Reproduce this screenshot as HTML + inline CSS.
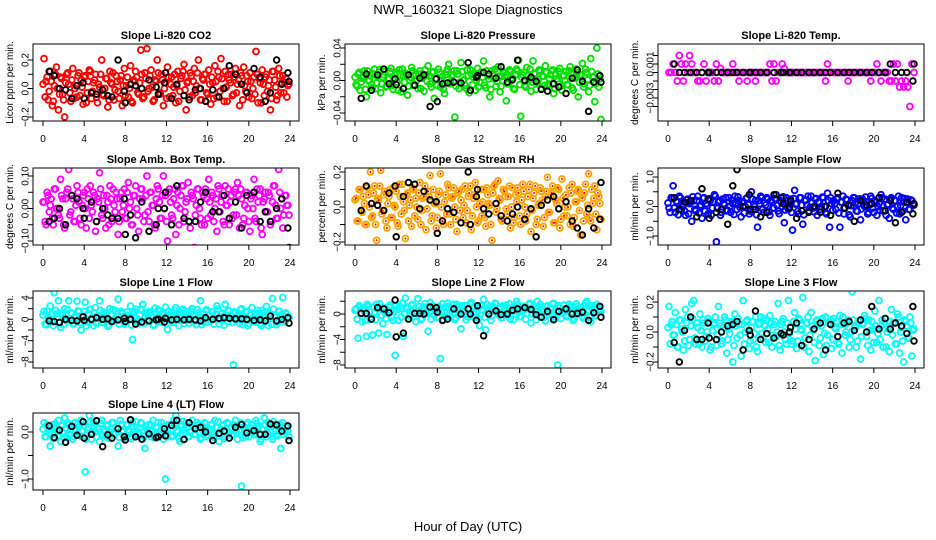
<!DOCTYPE html>
<html><head><meta charset="utf-8"><style>
html,body{margin:0;padding:0;background:#fff;}
svg{display:block;font-family:"Liberation Sans",Arial,sans-serif;}
</style></head><body>
<svg id="chart" width="936" height="540" viewBox="0 0 936 540">
<rect width="936" height="540" fill="#fff"/>
<text x="468" y="14" font-size="13" text-anchor="middle">NWR_160321  Slope Diagnostics</text>
<text x="468" y="531" font-size="13" text-anchor="middle">Hour of Day (UTC)</text>
</svg>
<script>
const hours = [0.1,0.3,0.5,0.7,0.9,1.1,1.3,1.5,1.7,1.9,2.1,2.3,2.5,2.7,2.9,3.1,3.3,3.5,3.7,3.9,4.1,4.3,4.5,4.7,4.9,5.1,5.3,5.5,5.7,5.9,6.1,6.3,6.5,6.7,6.9,7.1,7.3,7.5,7.7,7.9,8.1,8.3,8.5,8.7,8.9,9.1,9.3,9.5,9.7,9.9,10.1,10.3,10.5,10.7,10.9,11.1,11.3,11.5,11.7,11.9,12.1,12.3,12.5,12.7,12.9,13.1,13.3,13.5,13.7,13.9,14.1,14.3,14.5,14.7,14.9,15.1,15.3,15.5,15.7,15.9,16.1,16.3,16.5,16.7,16.9,17.1,17.3,17.5,17.7,17.9,18.1,18.3,18.5,18.7,18.9,19.1,19.3,19.5,19.7,19.9,20.1,20.3,20.5,20.7,20.9,21.1,21.3,21.5,21.7,21.9,22.1,22.3,22.5,22.7,22.9,23.1,23.3,23.5,23.7,23.9];
const hours2 = [0.0,0.2,0.4,0.6,0.8,1.0,1.2,1.4,1.6,1.8,2.0,2.2,2.4,2.6,2.8,3.0,3.2,3.4,3.6,3.8,4.0,4.2,4.4,4.6,4.8,5.0,5.2,5.4,5.6,5.8,6.0,6.2,6.4,6.6,6.8,7.0,7.2,7.4,7.6,7.8,8.0,8.2,8.4,8.6,8.8,9.0,9.2,9.4,9.6,9.8,10.0,10.2,10.4,10.6,10.8,11.0,11.2,11.4,11.6,11.8,12.0,12.2,12.4,12.6,12.8,13.0,13.2,13.4,13.6,13.8,14.0,14.2,14.4,14.6,14.8,15.0,15.2,15.4,15.6,15.8,16.0,16.2,16.4,16.6,16.8,17.0,17.2,17.4,17.6,17.8,18.0,18.2,18.4,18.6,18.8,19.0,19.2,19.4,19.6,19.8,20.0,20.2,20.4,20.6,20.8,21.0,21.2,21.4,21.6,21.8,22.0,22.2,22.4,22.6,22.8,23.0,23.2,23.4,23.6,23.8];
const blackHours = [0.6,1.1,1.6,2.2,2.8,3.3,3.9,4.0,4.7,5.2,5.8,6.3,6.7,7.3,7.9,8.0,8.5,9.0,9.6,10.3,11.0,11.2,11.8,11.9,12.5,13.0,13.7,14.2,14.8,15.3,15.8,16.5,17.1,17.6,18.1,18.7,19.3,19.8,20.5,21.1,21.6,22.1,22.7,23.2,23.8,23.9];
const xTicks = [0,4,8,12,16,20,24];

const co2Vals = [0.21,0.05,-0.08,0.12,-0.12,0.02,0.15,-0.15,0.08,-0.04,-0.2,0.1,0.03,-0.09,0.14,0.0,-0.06,0.11,0.06,-0.11,0.09,-0.03,0.13,-0.07,0.04,0.1,-0.1,0.01,0.2,-0.05,0.07,-0.13,0.12,0.03,-0.08,0.09,-0.02,0.06,-0.12,0.14,0.02,-0.06,0.16,-0.1,0.05,0.08,-0.04,0.27,-0.07,0.11,0.28,0.0,0.13,-0.09,0.06,0.2,-0.03,0.1,-0.12,0.04,0.15,-0.06,0.08,0.01,-0.1,0.12,-0.02,0.09,0.17,-0.15,0.05,0.11,-0.05,0.14,0.02,0.2,-0.08,0.07,0.1,-0.03,0.13,-0.11,0.04,0.16,-0.06,0.08,0.21,0.0,0.12,-0.09,0.06,0.1,-0.04,0.14,0.03,-0.12,0.09,0.15,-0.02,0.05,0.11,-0.07,0.08,0.26,-0.1,0.04,0.13,-0.05,0.1,0.02,-0.15,0.12,0.06,-0.08,0.14,-0.03,0.09,0.04,-0.06,0.03];
const co2Vals2 = [0.03,-0.06,0.08,-0.02,0.05,-0.09,0.1,0.0,-0.04,0.07,-0.08,0.04,0.11,-0.03,0.06,-0.07,0.02,0.09,-0.05,0.01,0.08,-0.1,0.05,0.12,-0.02,0.06,-0.06,0.03,0.1,-0.04,0.0,0.07,-0.08,0.04,0.11,-0.01,0.05,-0.07,0.09,0.02,-0.05,0.08,0.0,-0.09,0.06,0.12,-0.03,0.04,0.1,-0.06,0.07,-0.02,0.09,0.01,-0.08,0.05,0.11,-0.04,0.06,0.0,-0.07,0.08,0.03,-0.05,0.1,0.02,-0.09,0.07,0.12,-0.01,0.04,-0.06,0.09,0.05,-0.03,0.11,0.0,-0.08,0.06,0.1,-0.04,0.03,0.08,-0.07,0.05,0.12,-0.02,0.07,-0.09,0.01,0.1,0.04,-0.05,0.08,-0.03,0.06,0.11,-0.08,0.02,0.09,-0.06,0.05,0.0,-0.04,0.1,0.07,-0.1,0.03,0.08,-0.02,0.06,-0.07,0.12,0.01,-0.05,0.09,0.04,-0.03,0.07,0.02];
const co2Black = [0.12,0.09,0.0,-0.01,-0.07,0.02,0.04,-0.07,-0.03,-0.04,-0.01,-0.05,-0.06,0.2,-0.02,-0.1,0.03,0.02,0.0,0.06,0.01,-0.04,0.04,0.11,-0.07,0.03,-0.05,-0.08,-0.01,0.0,-0.09,-0.01,-0.06,0.0,0.16,0.1,0.03,-0.03,0.14,0.08,-0.09,-0.03,0.2,0.03,0.11,0.05];
const presVals = [-0.005,0.008,-0.012,0.003,0.012,-0.02,0.0,0.006,-0.009,0.014,-0.003,0.01,-0.015,0.004,0.011,-0.007,0.002,0.015,-0.011,0.007,-0.002,0.013,-0.014,0.005,0.009,-0.018,0.001,0.016,-0.006,0.008,-0.01,0.012,0.003,-0.013,0.006,0.018,-0.004,0.01,-0.022,0.002,0.014,-0.008,0.005,-0.016,0.011,0.02,-0.003,0.007,-0.045,0.012,-0.01,0.022,0.0,-0.006,0.013,-0.015,0.008,0.004,-0.012,0.015,-0.002,0.01,0.024,-0.009,0.006,-0.02,0.012,0.002,-0.007,0.017,-0.014,0.005,0.009,-0.025,-0.004,0.011,0.003,-0.011,0.014,0.025,-0.044,0.007,-0.006,0.016,0.001,-0.013,0.024,0.009,-0.003,0.013,-0.01,0.005,0.018,-0.007,0.002,0.012,-0.016,0.008,-0.001,0.015,-0.012,0.006,0.011,-0.005,0.017,-0.009,0.003,0.014,-0.02,0.007,0.021,-0.004,0.01,-0.014,0.027,0.004,-0.026,0.04,-0.008,-0.048];
const presVals2 = [0.004,-0.007,0.01,-0.002,0.006,-0.011,0.012,0.0,-0.005,0.008,-0.01,0.005,0.013,-0.004,0.007,-0.008,0.002,0.011,-0.006,0.001,0.01,-0.012,0.006,0.014,-0.002,0.007,-0.007,0.004,0.012,-0.005,0.0,0.008,-0.01,0.005,0.013,-0.001,0.006,-0.008,0.011,0.002,-0.006,0.01,0.0,-0.011,0.007,0.014,-0.004,0.005,0.012,-0.007,0.008,-0.002,0.011,0.001,-0.01,0.006,0.013,-0.005,0.007,0.0,-0.008,0.01,0.004,-0.006,0.012,0.002,-0.011,0.008,0.014,-0.001,0.005,-0.007,0.011,0.006,-0.004,0.013,0.0,-0.01,0.007,0.012,-0.005,0.004,0.01,-0.008,0.006,0.014,-0.002,0.008,-0.011,0.001,0.012,0.005,-0.006,0.01,-0.004,0.007,0.013,-0.01,0.002,0.011,-0.007,0.006,0.0,-0.005,0.012,0.008,-0.012,0.004,0.01,-0.002,0.007,-0.008,0.014,0.001,-0.006,0.011,0.005,-0.004,0.008,0.002];
const presBlack = [-0.022,0.008,-0.012,0.007,0.014,-0.004,0.002,-0.005,-0.01,0.007,-0.006,0.003,0.007,-0.032,0.002,-0.026,-0.004,-0.003,-0.002,-0.003,0.022,-0.012,0.004,0.006,0.01,0.008,0.003,0.017,-0.002,0.001,0.025,0.0,0.004,-0.001,-0.011,-0.013,-0.004,-0.008,-0.016,0.003,0.013,-0.001,-0.038,-0.002,0.006,-0.002];
const tempVals = [0,0,0.001,0,-0.001,0.002,0.001,-0.001,0.001,0,0.002,0.001,0,0,-0.001,-0.001,0,0.001,-0.001,0,0,0,-0.001,0.001,-0.001,0.0005,0,0,0,0,0,0.001,0,0,-0.001,0,0,0,-0.001,0,0,0,-0.001,0,0,0,0,0,0,0.001,-0.001,0.001,-0.001,0,0,0.001,0.0005,0,0,0,0,0,0,0,0,0,0,0,0,0,0,0,0,0,0,0,-0.001,0.001,0,0,0,0,0,0,0,0,0,-0.001,0,0,0,0,0,0,0,0,0,0,-0.001,0,0,0.001,0,-0.001,0,0,0,-0.001,-0.001,0.001,-0.001,0.001,-0.0017,-0.001,-0.0017,-0.001,-0.0017,-0.004,0.001,0];
const tempVals2 = [];
const tempBlack = [0.001,0,0,0,0,0,0,0,0,0,0,0,0,0,0,0,0,0,0,0,0,0,0,0,0,0,0,0,0,0,0,0,0,0,0,0,0,0,0,0,0.001,0,0,0,-0.001,0.001];
const ambVals = [0.02,-0.05,0.04,0.01,-0.03,0.06,0.0,-0.02,0.09,0.03,-0.06,0.05,0.12,-0.01,0.03,-0.04,0.07,0.02,-0.05,0.04,0.0,0.06,-0.03,0.01,0.05,-0.07,0.03,0.11,-0.02,0.04,-0.06,0.02,0.07,-0.04,0.01,0.05,-0.08,0.03,-0.01,0.06,-0.03,0.08,0.02,-0.05,0.04,0.0,-0.07,0.06,0.03,-0.02,0.1,-0.04,0.05,0.01,-0.06,0.07,0.02,-0.03,0.1,0.04,-0.1,0.06,-0.02,0.03,-0.08,0.05,0.0,0.07,-0.04,0.02,0.08,-0.06,0.04,-0.12,0.01,0.06,-0.03,0.05,-0.05,0.03,0.09,-0.02,0.04,0.0,-0.07,0.06,0.02,-0.04,0.07,0.01,-0.05,0.04,-0.02,0.06,0.08,-0.06,0.03,-0.03,0.05,0.0,-0.07,0.04,0.09,-0.04,0.02,0.06,-0.08,0.03,-0.01,0.05,-0.05,0.02,0.07,-0.03,0.12,0.0,-0.06,0.04,0.01,-0.02];
const ambVals2 = [0.02,-0.04,0.05,-0.01,0.03,-0.05,0.06,0.0,-0.03,0.04,-0.05,0.03,0.06,-0.02,0.04,-0.04,0.01,0.05,-0.03,0.01,0.05,-0.06,0.03,0.07,-0.01,0.04,-0.04,0.02,0.06,-0.03,0.0,0.04,-0.05,0.03,0.06,-0.01,0.03,-0.04,0.05,0.01,-0.03,0.05,0.0,-0.05,0.04,0.07,-0.02,0.03,0.06,-0.04,0.04,-0.01,0.05,0.01,-0.05,0.03,0.06,-0.03,0.04,0.0,-0.04,0.05,0.02,-0.03,0.06,0.01,-0.05,0.04,0.07,-0.01,0.03,-0.04,0.05,0.03,-0.02,0.06,0.0,-0.05,0.04,0.06,-0.03,0.02,0.05,-0.04,0.03,0.07,-0.01,0.04,-0.05,0.01,0.06,0.02,-0.03,0.05,-0.02,0.04,0.06,-0.05,0.01,0.05,-0.04,0.03,0.0,-0.03,0.06,0.04,-0.06,0.02,0.05,-0.01,0.04,-0.04,0.07,0.01,-0.03,0.05,0.03,-0.02,0.04,0.01];
const ambBlack = [-0.04,-0.03,0.0,-0.05,0.04,0.03,0.0,-0.03,0.02,-0.04,0.0,-0.02,-0.03,-0.03,0.03,-0.08,-0.02,-0.09,0.02,-0.07,-0.05,0.0,0.0,0.05,-0.05,0.07,-0.03,-0.04,-0.04,0.02,0.05,-0.01,-0.01,0.04,-0.03,0.02,-0.06,0.04,0.05,-0.04,-0.01,-0.04,0.0,0.03,-0.06,-0.12];
const rhVals = [0.05,-0.08,0.1,-0.03,0.02,-0.1,0.07,0.2,-0.05,0.12,-0.19,0.04,0.21,-0.02,0.09,-0.12,0.06,-0.06,0.11,0.0,-0.09,0.13,-0.04,0.03,-0.18,0.08,0.01,-0.11,0.1,0.05,-0.07,0.14,-0.02,0.06,-0.13,0.09,0.18,-0.05,0.02,-0.12,0.07,0.19,-0.08,0.03,-0.04,0.11,-0.1,0.06,0.0,-0.14,0.09,0.04,-0.06,0.12,-0.02,0.08,-0.13,0.05,0.14,-0.09,0.02,-0.05,0.1,-0.11,0.07,0.01,-0.19,0.12,-0.03,0.15,0.04,-0.08,0.09,-0.01,0.06,-0.12,0.11,-0.06,0.03,0.08,-0.1,0.13,0.0,-0.04,0.1,-0.14,0.05,0.12,-0.07,0.02,0.09,-0.11,0.06,0.17,-0.03,0.08,-0.09,0.04,0.11,-0.12,0.16,-0.05,0.07,0.0,-0.1,0.13,-0.06,0.03,0.1,-0.16,0.05,0.08,-0.04,0.19,-0.08,0.02,0.12,-0.13,0.06,-0.07];
const rhVals2 = [0.04,-0.08,0.1,-0.02,0.06,-0.1,0.11,0.0,-0.06,0.08,-0.1,0.05,0.12,-0.04,0.07,-0.08,0.02,0.1,-0.06,0.01,0.09,-0.11,0.06,0.13,-0.02,0.07,-0.08,0.04,0.11,-0.05,0.0,0.08,-0.1,0.05,0.12,-0.01,0.06,-0.08,0.1,0.02,-0.06,0.09,0.0,-0.1,0.07,0.13,-0.04,0.05,0.11,-0.07,0.08,-0.02,0.1,0.01,-0.09,0.06,0.12,-0.05,0.07,0.0,-0.08,0.1,0.03,-0.06,0.11,0.02,-0.1,0.08,0.13,-0.01,0.05,-0.07,0.1,0.06,-0.04,0.12,0.0,-0.09,0.07,0.11,-0.05,0.04,0.09,-0.08,0.06,0.13,-0.02,0.08,-0.1,0.01,0.11,0.04,-0.06,0.09,-0.03,0.07,0.12,-0.09,0.02,0.1,-0.07,0.05,0.0,-0.05,0.11,0.08,-0.11,0.03,0.09,-0.02,0.07,-0.08,0.13,0.01,-0.06,0.1,0.05,-0.04,0.08,0.02];
const rhBlack = [-0.02,0.12,0.02,0.01,-0.02,0.08,0.12,-0.17,0.06,0.14,0.13,-0.01,0.09,0.04,0.03,-0.15,-0.08,-0.01,-0.03,-0.09,0.2,-0.1,0.06,0.1,-0.01,-0.04,0.02,-0.05,-0.08,-0.04,0.0,-0.07,-0.01,-0.17,0.01,0.04,0.06,-0.01,0.03,-0.08,-0.12,-0.16,-0.01,-0.12,-0.07,0.14];
const sampVals = [-0.05,0.3,0.7,-0.2,0.15,0.35,-0.1,0.05,-0.3,0.25,0.1,-0.5,0.2,-0.15,0.35,0.0,-0.4,0.3,0.1,-0.25,0.2,-0.05,0.4,-1.2,0.15,-0.3,0.25,0.05,-0.15,0.3,-0.2,0.1,0.35,-0.1,0.2,-0.35,0.15,0.0,0.3,-0.25,0.5,-0.1,0.2,-0.7,0.1,0.3,-0.2,0.05,0.25,-0.3,0.15,-0.05,0.4,-0.15,0.2,0.0,-0.55,0.3,-0.1,0.25,-0.8,0.55,0.1,-0.25,0.3,-0.6,0.2,0.05,-0.15,0.35,-0.05,0.25,-0.3,0.15,0.0,0.3,-0.2,0.45,-0.7,0.1,0.2,-0.1,0.3,-0.7,0.15,-0.25,0.25,0.05,-0.35,0.2,0.3,-0.15,0.1,-0.45,0.25,0.0,0.15,-0.2,0.35,-0.05,0.2,-0.3,0.1,0.4,-0.15,0.25,0.05,-0.4,0.3,-0.1,0.2,0.0,-0.25,0.3,0.15,-0.45,0.25,-0.1,0.2,0.05];
const sampVals2 = [0.12,-0.2,0.28,-0.05,0.18,-0.28,0.3,0.0,-0.15,0.22,-0.25,0.14,0.33,-0.1,0.2,-0.22,0.05,0.28,-0.16,0.03,0.26,-0.3,0.16,0.35,-0.06,0.2,-0.2,0.1,0.3,-0.13,0.0,0.22,-0.27,0.12,0.33,-0.03,0.15,-0.22,0.27,0.06,-0.16,0.25,0.0,-0.28,0.2,0.35,-0.1,0.13,0.3,-0.18,0.21,-0.05,0.27,0.03,-0.24,0.15,0.33,-0.12,0.2,0.0,-0.2,0.27,0.08,-0.16,0.3,0.05,-0.28,0.22,0.35,-0.03,0.13,-0.18,0.27,0.16,-0.1,0.32,0.0,-0.25,0.2,0.3,-0.13,0.1,0.25,-0.22,0.15,0.35,-0.05,0.22,-0.28,0.03,0.3,0.12,-0.16,0.26,-0.08,0.2,0.32,-0.25,0.05,0.27,-0.2,0.14,0.0,-0.13,0.3,0.22,-0.3,0.08,0.25,-0.05,0.2,-0.22,0.35,0.03,-0.16,0.27,0.14,-0.1,0.22,0.06];
const sampBlack = [0.3,-0.1,0.15,0.2,-0.35,0.6,0.25,-0.4,-0.2,-0.1,-0.6,0.7,1.25,0.0,0.4,-0.1,-0.1,-0.35,-0.2,0.4,0.3,0.1,-0.05,0.2,-0.4,-0.15,-0.2,0.0,-0.2,0.0,-0.3,0.45,-0.05,0.05,-0.5,0.2,0.05,0.1,0.3,-0.15,0.2,-0.55,-0.2,0.15,-0.25,0.1];
const l1Vals = [1.5,-1,0.5,2.5,-0.5,5,1,3.5,-1.5,0.8,2,-0.3,3.5,1.2,-0.8,0.3,3.4,1.5,-2,0.6,3.2,-0.5,1.8,0.2,-1.2,2.2,0.7,3.5,-0.6,1.3,0.4,-1.3,2.0,0.9,-0.2,1.6,3.8,0.1,1.1,-0.9,-0.4,0.8,2.5,-3.8,1.4,0.2,-0.7,1.9,2.8,0.5,-0.3,1.2,0.7,-1.1,2.1,0.3,1.6,-0.5,0.9,2.3,-1.9,0.6,1.3,-0.4,2.2,0.8,0.1,1.7,-0.8,0.4,1.5,-0.2,2.0,0.7,-1.0,1.2,3.5,0.3,-0.6,1.8,0.9,-0.3,1.4,0.2,2.5,-0.9,1.0,0.5,2.8,-0.4,1.6,0.1,-8.5,1.2,0.6,-0.7,2.0,0.3,1.4,-1.2,0.8,2.2,-0.2,1.1,0.5,-0.8,1.7,0.2,2.4,-1.2,0.9,3.9,0.4,-1.0,1.5,0.7,4.1,-0.5,1.0,0.3];
const l1Vals2 = [0.8,-0.9,1.5,0.1,1.0,-1.2,1.7,0.4,-0.6,1.2,-1.0,0.9,1.8,-0.3,1.1,-0.8,0.5,1.6,-0.6,0.4,1.5,-1.2,1.0,1.9,0.0,1.2,-0.8,0.7,1.7,-0.5,0.3,1.3,-1.1,0.8,1.8,0.1,1.0,-0.9,1.5,0.5,-0.6,1.4,0.3,-1.1,1.2,1.9,-0.3,0.8,1.7,-0.7,1.2,0.0,1.5,0.4,-1.0,1.0,1.8,-0.5,1.1,0.3,-0.8,1.5,0.6,-0.6,1.7,0.5,-1.2,1.2,1.9,0.1,0.9,-0.7,1.5,1.0,-0.3,1.8,0.3,-1.0,1.1,1.7,-0.5,0.7,1.4,-0.9,1.0,1.9,0.0,1.2,-1.1,0.4,1.7,0.8,-0.6,1.4,-0.2,1.1,1.8,-1.0,0.5,1.5,-0.8,0.9,0.3,-0.5,1.7,1.2,-1.2,0.6,1.4,0.0,1.1,-0.9,1.9,0.4,-0.6,1.5,0.9,-0.3,1.2,0.5];
const l1Black = [-0.3,-0.4,-0.6,0.0,-0.2,-0.3,0.5,-0.2,0.0,0.3,0.0,0.1,-0.4,-0.1,0.2,-0.4,0.0,-0.9,-0.5,-0.3,-0.1,0.0,-0.5,0.2,-0.1,0.0,-0.1,0.0,-0.1,-0.3,0.3,0.0,0.2,0.3,0.2,0.1,0.1,0.0,-0.2,-0.1,-0.3,0.6,-0.3,0.0,0.3,-0.7];
const l2Vals = [0.8,-3.8,1.0,-1.2,0.5,-3.5,1.2,-0.8,-3.3,0.3,1.5,-3.0,0.9,-1.5,0.2,-3.2,1.1,0.4,-1.0,-6.5,0.7,1.3,-0.5,-3.5,2.5,0.9,-0.3,1.4,0.2,-1.2,2.4,0.6,-0.7,1.1,0.3,-2.7,1.8,0.5,-0.2,1.0,0.8,-7.0,1.6,0.4,-0.6,1.2,0.9,0.1,-0.9,1.5,0.6,-2.3,0.2,1.3,-0.4,0.8,1.8,0.3,-0.5,1.1,-1.8,0.7,2.3,-2.5,0.4,1.2,-0.2,0.9,1.6,0.0,1.1,-0.6,0.6,1.4,0.2,-0.8,1.0,0.5,2.0,0.3,-0.4,1.2,0.7,0.1,1.5,-1.4,0.8,0.4,2.0,-0.3,1.1,0.6,-1.1,1.3,0.2,0.9,1.7,-0.5,-8.0,1.0,0.5,1.4,-0.2,0.8,1.2,0.3,-0.7,1.6,0.4,0.9,-0.4,1.3,2.0,0.6,-1.2,1.0,0.2,1.5,0.7,0.4];
const l2Vals2 = [0.6,-0.8,1.3,0.1,0.9,-1.0,1.5,0.4,-0.5,1.1,-0.9,0.8,1.6,-0.2,1.0,-0.7,0.5,1.4,-0.5,0.4,1.3,-1.0,0.9,1.7,0.0,1.1,-0.7,0.6,1.5,-0.4,0.3,1.2,-0.9,0.7,1.6,0.1,0.9,-0.8,1.3,0.5,-0.5,1.2,0.3,-0.9,1.1,1.7,-0.2,0.7,1.5,-0.6,1.1,0.0,1.3,0.4,-0.9,0.9,1.6,-0.4,1.0,0.3,-0.7,1.3,0.6,-0.5,1.5,0.5,-1.0,1.1,1.7,0.1,0.8,-0.6,1.3,0.9,-0.2,1.6,0.3,-0.9,1.0,1.5,-0.4,0.6,1.2,-0.8,0.9,1.7,0.0,1.1,-0.9,0.4,1.5,0.7,-0.5,1.2,-0.1,1.0,1.6,-0.8,0.5,1.3,-0.7,0.8,0.3,-0.4,1.5,1.1,-1.0,0.6,1.2,0.0,1.0,-0.7,1.7,0.4,-0.5,1.3,0.8,-0.2,1.1,0.5];
const l2Black = [0.1,0.1,-0.8,1.0,0.8,0.2,2.2,-3.6,-3.0,-0.8,0.1,0.1,0.0,1.1,1.0,0.3,-1.0,-0.8,0.8,0.0,0.8,0.0,-1.0,1.3,-3.4,0.0,0.5,-0.1,0.0,0.6,0.8,1.0,0.7,-0.1,-0.5,0.4,-0.9,0.4,0.8,0.0,0.1,0.3,-1.0,0.2,1.2,-0.5];
const l3Vals = [0.17,0.05,-0.02,0.13,-0.1,0.08,0.02,-0.12,0.15,0.1,-0.05,0.19,0.21,-0.08,0.03,0.12,-0.1,0.06,-0.03,0.09,-0.12,0.01,0.06,-0.09,0.17,0.04,-0.06,0.1,-0.14,0.02,0.07,-0.2,0.12,-0.04,0.05,-0.16,0.21,0.0,0.08,-0.11,0.03,-0.05,0.1,-0.13,0.06,-0.01,0.09,-0.07,0.02,0.11,-0.1,0.05,-0.03,0.19,-0.12,0.07,0.0,-0.08,0.21,0.04,-0.06,0.13,-0.11,0.09,0.02,0.23,-0.04,0.06,-0.13,0.13,0.01,-0.19,0.08,-0.09,0.04,-0.15,0.1,-0.02,0.06,-0.11,0.09,0.02,-0.07,0.11,-0.14,0.05,0.0,0.08,-0.05,0.27,0.03,-0.1,0.07,-0.18,0.05,0.11,-0.03,0.08,-0.12,0.02,0.14,-0.07,0.21,0.04,-0.1,0.09,0.0,-0.13,0.15,0.06,-0.08,0.12,-0.14,0.03,-0.2,0.07,-0.04,0.1,-0.16,0.02];
const l3Vals2 = [0.03,-0.08,0.07,-0.02,0.05,-0.1,0.08,0.0,-0.06,0.06,-0.09,0.04,0.09,-0.04,0.06,-0.08,0.01,0.08,-0.06,0.0,0.07,-0.1,0.05,0.1,-0.02,0.06,-0.08,0.03,0.08,-0.05,-0.01,0.06,-0.09,0.04,0.09,-0.02,0.05,-0.08,0.07,0.01,-0.06,0.07,-0.01,-0.1,0.05,0.1,-0.04,0.04,0.08,-0.07,0.06,-0.02,0.07,0.0,-0.09,0.05,0.09,-0.05,0.06,-0.01,-0.08,0.07,0.02,-0.06,0.08,0.01,-0.1,0.06,0.1,-0.02,0.04,-0.07,0.07,0.05,-0.04,0.09,-0.01,-0.09,0.06,0.08,-0.05,0.03,0.07,-0.08,0.05,0.1,-0.02,0.06,-0.1,0.0,0.08,0.03,-0.06,0.07,-0.03,0.06,0.09,-0.09,0.01,0.07,-0.07,0.04,-0.01,-0.05,0.08,0.06,-0.1,0.02,0.07,-0.02,0.06,-0.08,0.1,0.0,-0.06,0.08,0.04,-0.04,0.06,0.01];
const l3Black = [-0.07,-0.2,0.01,0.1,-0.05,-0.05,0.06,-0.04,-0.05,0.0,0.04,0.05,0.07,-0.12,0.01,-0.02,0.14,-0.05,-0.01,-0.04,-0.01,-0.02,0.0,0.03,0.06,-0.09,-0.05,0.02,0.06,-0.12,0.05,-0.03,0.06,0.07,0.01,0.08,0.0,0.17,0.02,0.09,0.02,0.06,0.04,-0.01,0.17,-0.06];
const l4Vals = [0.2,-0.1,0.05,-0.3,0.15,-0.05,0.1,0.25,-0.2,0.0,0.3,-0.1,0.15,0.05,-0.15,0.2,-0.05,0.1,0.25,-0.1,-0.85,0.05,0.35,-0.15,0.2,0.0,0.1,-0.2,0.25,0.05,-0.1,0.15,0.0,0.2,-0.05,0.1,-0.3,0.25,0.0,-0.15,0.15,0.05,-0.1,0.2,-0.05,0.1,0.0,0.2,-0.15,-0.35,0.05,0.15,-0.1,0.25,0.0,0.1,-0.05,0.2,-0.15,-1.0,0.05,0.15,-0.1,0.25,0.35,0.0,-0.2,0.15,0.05,0.2,-0.1,0.0,0.25,-0.05,0.1,0.15,-0.15,0.05,0.2,-0.1,0.0,0.15,-0.05,0.25,0.1,-0.2,0.05,0.15,-0.1,0.2,0.0,0.1,-0.05,0.25,-0.15,0.05,-1.15,0.1,-0.1,0.2,0.0,0.15,-0.05,0.25,0.1,-0.2,0.05,0.3,-0.1,0.2,0.0,-0.15,0.15,-0.05,0.1,-0.35,0.2,0.0,0.1,-0.1];
const l4Vals2 = [0.06,-0.1,0.15,-0.02,0.1,-0.14,0.18,0.02,-0.07,0.13,-0.12,0.08,0.2,-0.05,0.11,-0.1,0.03,0.17,-0.08,0.02,0.15,-0.15,0.1,0.22,-0.02,0.12,-0.1,0.06,0.18,-0.06,0.0,0.13,-0.13,0.07,0.2,-0.01,0.1,-0.11,0.16,0.03,-0.08,0.15,0.0,-0.14,0.12,0.22,-0.05,0.08,0.18,-0.09,0.13,-0.02,0.16,0.02,-0.12,0.1,0.2,-0.06,0.11,0.0,-0.1,0.16,0.05,-0.08,0.18,0.03,-0.14,0.13,0.22,-0.01,0.08,-0.09,0.16,0.1,-0.05,0.2,0.0,-0.12,0.11,0.18,-0.06,0.06,0.15,-0.11,0.1,0.22,-0.02,0.13,-0.14,0.02,0.18,0.07,-0.08,0.15,-0.03,0.11,0.2,-0.12,0.03,0.16,-0.1,0.09,0.0,-0.06,0.18,0.13,-0.15,0.05,0.15,-0.02,0.12,-0.1,0.22,0.02,-0.08,0.16,0.09,-0.05,0.13,0.03];
const l4Black = [0.13,-0.12,0.04,-0.22,0.12,-0.07,0.22,-0.13,-0.05,0.24,-0.31,-0.06,-0.13,0.07,-0.1,-0.17,0.26,-0.1,-0.15,-0.04,-0.12,-0.1,0.07,-0.08,0.14,0.25,-0.16,0.2,0.07,0.1,0.0,-0.18,-0.03,0.02,-0.13,0.1,0.16,-0.02,0.03,-0.05,-0.05,0.17,0.15,0.02,0.13,-0.18];

const panels = [
 {name:'co2',title:'Slope Li-820 CO2',ylab:'Licor ppm per min.',col:0,row:0,v1:0.2,p1:60,v2:-0.2,p2:117,ticks:[-0.2,-0.1,0,0.1,0.2],labels:{'-0.2':'-0.2','0':'0.0','0.2':'0.2'},vals:co2Vals,vals2:co2Vals2,blk:co2Black,color:'#ff0000'},
 {name:'pressure',title:'Slope Li-820 Pressure',ylab:'kPa per min.',col:1,row:0,v1:0.04,p1:48,v2:-0.04,p2:113,ticks:[-0.04,-0.02,0,0.02,0.04],labels:{'-0.04':'-0.04','0':'0.00','0.04':'0.04'},vals:presVals,vals2:presVals2,blk:presBlack,color:'#00e000'},
 {name:'li820-temp',title:'Slope Li-820 Temp.',ylab:'degrees C per min.',col:2,row:0,v1:0.001,p1:64,v2:-0.003,p2:98,ticks:[-0.004,-0.003,-0.002,-0.001,0,0.001,0.002],labels:{'-0.003':'-0.003','0.001':'0.001'},vals:tempVals,vals2:tempVals2,blk:tempBlack,color:'#ff00ff'},
 {name:'amb-box-temp',title:'Slope Amb. Box Temp.',ylab:'degrees C per min.',col:0,row:1,v1:0.1,p1:176,v2:-0.1,p2:241,ticks:[-0.1,-0.05,0,0.05,0.1],labels:{'-0.1':'-0.10','0':'0.00','0.1':'0.10'},vals:ambVals,vals2:ambVals2,blk:ambBlack,color:'#ff00ff'},
 {name:'gas-stream-rh',title:'Slope Gas Stream RH',ylab:'percent per min.',col:1,row:1,v1:0.2,p1:172,v2:-0.2,p2:242,ticks:[-0.2,-0.1,0,0.1,0.2],labels:{'-0.2':'-0.2','0':'0.0','0.2':'0.2'},vals:rhVals,vals2:rhVals2,blk:rhBlack,color:'#ffa500',inner:'#ff0000'},
 {name:'sample-flow',title:'Slope Sample Flow',ylab:'ml/min per min.',col:2,row:1,v1:1,p1:177,v2:-1,p2:236,ticks:[-1,-0.5,0,0.5,1],labels:{'-1':'-1.0','0':'0.0','1':'1.0'},vals:sampVals,vals2:sampVals2,blk:sampBlack,color:'#0000ff'},
 {name:'line1-flow',title:'Slope Line 1 Flow',ylab:'ml/min per min.',col:0,row:2,v1:4,p1:298,v2:-8,p2:362,ticks:[-8,-6,-4,-2,0,2,4],labels:{'-8':'-8','-4':'-4','0':'0','4':'4'},vals:l1Vals,vals2:l1Vals2,blk:l1Black,color:'#00ffff'},
 {name:'line2-flow',title:'Slope Line 2 Flow',ylab:'ml/min per min.',col:1,row:2,v1:0,p1:314,v2:-8,p2:365,ticks:[-8,-6,-4,-2,0,2],labels:{'-8':'-8','-4':'-4','0':'0'},vals:l2Vals,vals2:l2Vals2,blk:l2Black,color:'#00ffff'},
 {name:'line3-flow',title:'Slope Line 3 Flow',ylab:'ml/min per min.',col:2,row:2,v1:0.2,p1:302,v2:-0.2,p2:362,ticks:[-0.2,-0.1,0,0.1,0.2],labels:{'-0.2':'-0.2','0':'0.0','0.2':'0.2'},vals:l3Vals,vals2:l3Vals2,blk:l3Black,color:'#00ffff'},
 {name:'line4-flow',title:'Slope Line 4 (LT) Flow',ylab:'ml/min per min.',col:0,row:3,v1:0,p1:432,v2:-1,p2:479,ticks:[-1,-0.5,0],labels:{'-1':'-1.0','0':'0.0'},vals:l4Vals,vals2:l4Vals2,blk:l4Black,color:'#00ffff'}
];
const colLeft=[33,345,658], rowTop=[44,168,291,413], W=266, H=77;
const NS='http://www.w3.org/2000/svg';
const svg=document.getElementById('chart');
function mk(tag,attrs,parent){const e=document.createElementNS(NS,tag);for(const k in attrs)e.setAttribute(k,attrs[k]);(parent||svg).appendChild(e);return e;}
panels.forEach(p=>{
  const L=colLeft[p.col],T=rowTop[p.row],B=T+H,R=L+W;
  const g=mk('g',{});
  
  
  const xs=h=>L+10+h*(247/24);
  const ys=v=>p.p1+(v-p.v1)*(p.p2-p.p1)/(p.v2-p.v1);
  const clip=mk('clipPath',{id:'c-'+p.name},g);mk('rect',{x:L,y:T,width:W,height:H},clip);
  const pts=mk('g',{'clip-path':'url(#c-'+p.name+')'},g);
  
  
  const drawSet=(hs,vs)=>{
    const n=Math.min(hs.length,vs.length);
    for(let i=0;i<n;i++){
      const c=mk('circle',{cx:xs(hs[i]).toFixed(1),cy:ys(vs[i]).toFixed(1),r:2.9,fill:'none',stroke:p.color,'stroke-width':1.9},pts);
      
      
      if(p.inner){mk('circle',{cx:xs(hs[i]).toFixed(1),cy:ys(vs[i]).toFixed(1),r:1,fill:p.inner},pts);}
    }
  };
  drawSet(hours2,p.vals2);
  drawSet(hours,p.vals);
  const m=Math.min(blackHours.length,p.blk.length);
  for(let i=0;i<m;i++){
    const c=mk('circle',{cx:xs(blackHours[i]).toFixed(1),cy:ys(p.blk[i]).toFixed(1),r:2.8,fill:'none',stroke:'#000','stroke-width':1.9},pts);
    
    
  }
  const box=mk('rect',{x:L,y:T,width:W,height:H,fill:'none',stroke:'#000','stroke-width':1},g);
  
  
  const t=mk('text',{x:L+W/2,y:T-5,'font-size':11,'font-weight':'bold','text-anchor':'middle'},g);t.textContent=p.title;
  
  
  const yl=mk('text',{x:0,y:0,'font-size':10,'text-anchor':'middle',transform:`translate(${L-20},${T+H/2}) rotate(-90)`},g);yl.textContent=p.ylab;
  
  
  p.ticks.forEach(v=>{
    const y=ys(v);
    mk('line',{x1:L-5,x2:L,y1:y,y2:y,stroke:'#000'},g);
    const key=String(v);
    if(p.labels[key]!==undefined){
      const tl=mk('text',{x:0,y:0,'font-size':10,'text-anchor':'middle',transform:`translate(${L-4.5},${y}) rotate(-90)`},g);
      tl.textContent=p.labels[key].replace('-','\u2212');
      
      
    }
  });
  mk('line',{x1:xs(0),x2:xs(24),y1:B,y2:B,stroke:'#000'},g);
  xTicks.forEach(h=>{
    const x=xs(h);
    mk('line',{x1:x,x2:x,y1:B,y2:B+5,stroke:'#000'},g);
    const tl=mk('text',{x:x,y:B+21,'font-size':10,'text-anchor':'middle'},g);tl.textContent=h;
    
    
  });
});
</script>
</body></html>
